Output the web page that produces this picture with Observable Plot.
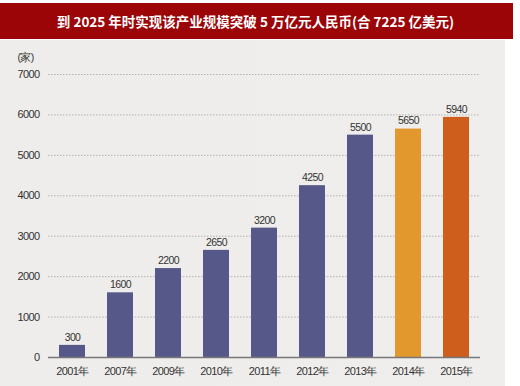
<!DOCTYPE html>
<html>
<head>
<meta charset="utf-8">
<script src="https://cdn.jsdelivr.net/npm/d3@7"></script>
<script src="https://cdn.jsdelivr.net/npm/@observablehq/plot@0.6"></script>
<style>
  html, body { margin: 0; padding: 0; background: #fff; width: 520px; height: 386px; overflow: hidden; }
  #title {
    margin-top: 3px; width: 513px; height: 36px; background: #9c0508; color: #fff;
    font-family: "Noto Sans CJK SC", sans-serif; font-weight: bold; font-size: 13.5px;
    line-height: 36px; text-align: center; box-sizing: border-box; padding-right: 2px;
  }
  #chart { width: 520px; height: 346px; margin-top: 1px;
    background: linear-gradient(to right, #eeedeb 0px, #efeeec 505px, #fff 505px); }
  #chart svg { background: transparent; }
  #chart svg text { letter-spacing: -0.6px; }
</style>
</head>
<body>
<div id="title">到 2025 年时实现该产业规模突破 5 万亿元人民币(合 7225 亿美元)</div>
<div id="chart"></div>
<script>
const years = ["2001", "2007", "2009", "2010", "2011", "2012", "2013", "2014", "2015"];
const counts = [300, 1600, 2200, 2650, 3200, 4250, 5500, 5650, 5940];
const barColors = ["#57588a", "#57588a", "#57588a", "#57588a", "#57588a", "#57588a", "#57588a", "#e2982c", "#cd5e1c"];
const yTicks = [0, 1000, 2000, 3000, 4000, 5000, 6000, 7000];
const unitLabel = "(家)";

const data = years.map((y, i) => ({year: y, count: counts[i]}));
const font = "'Liberation Sans', 'DejaVu Sans', sans-serif";

const chart = Plot.plot({
  width: 520,
  height: 346,
  marginLeft: 48,
  marginRight: 40,
  marginTop: 34,
  marginBottom: 29,
  style: {fontFamily: font, fontSize: "10px", color: "#333", background: "transparent"},
  x: {domain: years, paddingInner: 0.46, paddingOuter: 0.23, label: null},
  y: {domain: [0, 7000], label: null},
  color: {domain: years, range: barColors},
  marks: [
    Plot.gridY(yTicks, {stroke: "#8a8a8a", strokeOpacity: 0.6, strokeDasharray: "1.5,1.5"}),
    Plot.axisY(yTicks, {tickSize: 0, tickPadding: 9, tickFormat: d => String(d), label: null, fontSize: 11}),
    Plot.text([unitLabel], {frameAnchor: "top-left", text: d => d, dx: -31, dy: -21, textAnchor: "start", fill: "#333", fontSize: 10.5}),
    Plot.axisX({tickSize: 0, tickPadding: 10, tickFormat: d => d + "年", fontSize: 11}),
    Plot.barY(data, {x: "year", y: "count", fill: "year"}),
    Plot.ruleY([0], {stroke: "#777", strokeWidth: 1.5}),
    Plot.text(data, {x: "year", y: "count", text: d => String(d.count), dy: -8, fill: "#333", fontSize: 10.5})
  ]
});
document.getElementById("chart").appendChild(chart);
</script>
</body>
</html>
